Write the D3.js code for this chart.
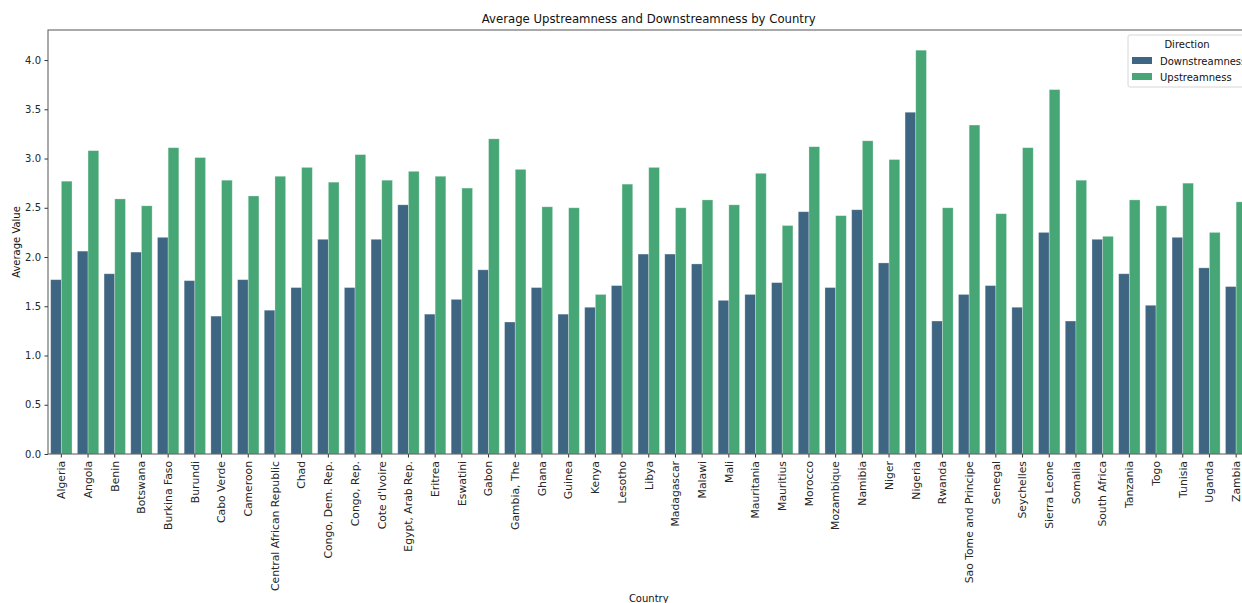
<!DOCTYPE html>
<html>
<head>
<meta charset="utf-8">
<script src="https://cdn.jsdelivr.net/npm/d3@7"></script>
<style>
  body { margin: 0; background: #fff; overflow: hidden; }
  svg { display: block; font-family: "DejaVu Sans", sans-serif; }
</style>
</head>
<body>
<div id="chart"></div>
<script>
const countries = ["Algeria", "Angola", "Benin", "Botswana", "Burkina Faso", "Burundi", "Cabo Verde",
  "Cameroon", "Central African Republic", "Chad", "Congo, Dem. Rep.", "Congo, Rep.", "Cote d'Ivoire",
  "Egypt, Arab Rep.", "Eritrea", "Eswatini", "Gabon", "Gambia, The", "Ghana", "Guinea", "Kenya",
  "Lesotho", "Libya", "Madagascar", "Malawi", "Mali", "Mauritania", "Mauritius", "Morocco",
  "Mozambique", "Namibia", "Niger", "Nigeria", "Rwanda", "Sao Tome and Principe", "Senegal",
  "Seychelles", "Sierra Leone", "Somalia", "South Africa", "Tanzania", "Togo", "Tunisia", "Uganda", "Zambia"]

const directions = ["Downstreamness", "Upstreamness"]

const downstreamness = [1.77, 2.06, 1.83, 2.05, 2.20, 1.76, 1.40, 1.77, 1.46, 1.69, 2.18, 1.69, 2.18,
  2.53, 1.42, 1.57, 1.87, 1.34, 1.69, 1.42, 1.49, 1.71, 2.03, 2.03, 1.93, 1.56, 1.62, 1.74, 2.46,
  1.69, 2.48, 1.94, 3.47, 1.35, 1.62, 1.71, 1.49, 2.25, 1.35, 2.18, 1.83, 1.51, 2.20, 1.89, 1.70]

const upstreamness = [2.77, 3.08, 2.59, 2.52, 3.11, 3.01, 2.78, 2.62, 2.82, 2.91, 2.76, 3.04, 2.78,
  2.87, 2.82, 2.70, 3.20, 2.89, 2.51, 2.50, 1.62, 2.74, 2.91, 2.50, 2.58, 2.53, 2.85, 2.32, 3.12,
  2.42, 3.18, 2.99, 4.10, 2.50, 3.34, 2.44, 3.11, 3.70, 2.78, 2.21, 2.58, 2.52, 2.75, 2.25, 2.56]

const yTicks = [0, 0.5, 1.0, 1.5, 2.0, 2.5, 3.0, 3.5, 4.0]

const colors = { Downstreamness: "#3e6582", Upstreamness: "#47a675" }

const MARGIN = { TOP: 30, LEFT: 48 }
const WIDTH = 1201.5
const HEIGHT = 424

const rows = countries.map((c, i) => ({
  country: c,
  values: [
    { key: "Downstreamness", value: downstreamness[i] },
    { key: "Upstreamness", value: upstreamness[i] }
  ]
}))

const svg = d3.select("#chart")
              .append("svg")
              .attr("width", 1242)
              .attr("height", 603)

const g = svg.append("g")
             .attr("transform", `translate(${MARGIN.LEFT}, ${MARGIN.TOP})`)

const x0 = d3.scaleBand()
             .domain(countries)
             .range([0, WIDTH])
             .paddingInner(0.2)
             .paddingOuter(0.1)

const x1 = d3.scaleBand()
             .domain(directions)
             .range([0, x0.bandwidth()])

const y = d3.scaleLinear()
            .domain([0, 4.305])
            .range([HEIGHT, 0])

// bars
const groups = g.selectAll("g.group")
                .data(rows)
                .enter()
                .append("g")
                .attr("class", "group")
                .attr("transform", d => `translate(${x0(d.country)}, 0)`)

groups.selectAll("rect")
      .data(d => d.values)
      .enter()
      .append("rect")
      .attr("x", d => x1(d.key))
      .attr("y", d => y(d.value))
      .attr("width", x1.bandwidth())
      .attr("height", d => HEIGHT - y(d.value))
      .attr("fill", d => colors[d.key])
      .attr("stroke", "#ffffff")
      .attr("stroke-opacity", 0.35)
      .attr("stroke-width", 0.8)

// axes
const yAxis = g.append("g")
               .call(d3.axisLeft(y).tickValues(yTicks).tickFormat(d3.format(".1f")).tickSize(3.5).tickPadding(3.5))

const xAxis = g.append("g")
               .attr("transform", `translate(0, ${HEIGHT})`)
               .call(d3.axisBottom(x0).tickSize(3.5).tickPadding(3.5))

for (const ax of [xAxis, yAxis]) {
  ax.select(".domain").remove()
  ax.selectAll("text").attr("font-size", 10).attr("fill", "#262626").attr("font-family", "DejaVu Sans")
  ax.selectAll("line").attr("stroke", "#333")
}

// x labels are a touch larger and stand vertical
xAxis.selectAll("text")
     .attr("transform", "rotate(-90)")
     .attr("text-anchor", "end")
     .attr("x", -7)
     .attr("y", 0)
     .attr("dy", "0.35em")
     .attr("font-size", 10.8)

// frame
g.append("rect")
 .attr("x", 0)
 .attr("y", 0)
 .attr("width", WIDTH)
 .attr("height", HEIGHT)
 .attr("fill", "none")
 .attr("stroke", "#555")
 .attr("stroke-width", 1)

// titles
svg.append("text")
   .attr("x", MARGIN.LEFT + WIDTH / 2)
   .attr("y", 23)
   .attr("text-anchor", "middle")
   .attr("font-size", 11.7)
   .attr("fill", "#111")
   .text("Average Upstreamness and Downstreamness by Country")

svg.append("text")
   .attr("transform", `translate(20, ${MARGIN.TOP + HEIGHT / 2}) rotate(-90)`)
   .attr("text-anchor", "middle")
   .attr("font-size", 10)
   .attr("fill", "#111")
   .text("Average Value")

svg.append("text")
   .attr("x", MARGIN.LEFT + WIDTH / 2)
   .attr("y", 602)
   .attr("text-anchor", "middle")
   .attr("font-size", 10)
   .attr("fill", "#111")
   .text("Country")

// legend
const legend = svg.append("g")
                  .attr("transform", "translate(1128, 35)")

legend.append("rect")
      .attr("width", 124)
      .attr("height", 52)
      .attr("rx", 2)
      .attr("fill", "#fff")
      .attr("fill-opacity", 0.8)
      .attr("stroke", "#d6d6d6")

legend.append("text")
      .attr("x", 59)
      .attr("y", 13)
      .attr("text-anchor", "middle")
      .attr("font-size", 10)
      .attr("fill", "#111")
      .text("Direction")

directions.forEach((dir, i) => {
  legend.append("rect")
        .attr("x", 4)
        .attr("y", 22 + i * 16)
        .attr("width", 20)
        .attr("height", 7)
        .attr("fill", colors[dir])
  legend.append("text")
        .attr("x", 32)
        .attr("y", 29.5 + i * 16)
        .attr("font-size", 10)
        .attr("fill", "#111")
        .text(dir)
})
</script>
</body>
</html>
